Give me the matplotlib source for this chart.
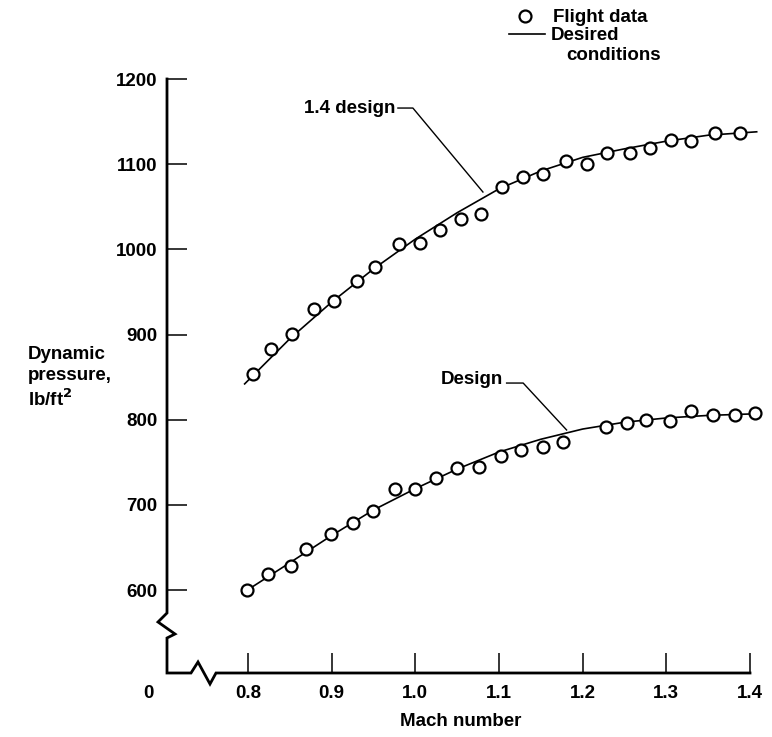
import matplotlib
matplotlib.use('Agg')
import matplotlib.pyplot as plt
from matplotlib.lines import Line2D

plt.rcParams['font.family'] = ['Liberation Sans', 'DejaVu Sans']
plt.rcParams['font.weight'] = 'bold'
plt.rcParams['font.size'] = 13.5

# flight data, 1.4 design trajectory
mach_14 = [0.806, 0.828, 0.853, 0.879, 0.903, 0.930, 0.952, 0.980, 1.006, 1.029,
           1.054, 1.078, 1.103, 1.129, 1.153, 1.180, 1.205, 1.229, 1.257, 1.280,
           1.305, 1.330, 1.358, 1.388]
q_14 = [854, 883, 901, 930, 939, 963, 979, 1006, 1008, 1023,
        1036, 1042, 1073, 1085, 1088, 1104, 1100, 1113, 1113, 1119,
        1128, 1127, 1137, 1137]

# flight data, design trajectory
mach_design = [0.799, 0.824, 0.851, 0.869, 0.899, 0.926, 0.949, 0.976, 1.000, 1.025,
               1.050, 1.076, 1.102, 1.126, 1.152, 1.176, 1.228, 1.253, 1.276, 1.304,
               1.330, 1.356, 1.382, 1.406]
q_design = [600, 619, 628, 648, 666, 679, 693, 719, 719, 731,
            743, 745, 757, 764, 768, 774, 791, 796, 800, 799,
            810, 806, 806, 808]

# desired conditions
curve_mach_14 = [0.796, 0.85, 0.90, 0.95, 1.00, 1.05, 1.10, 1.15, 1.20, 1.25, 1.30, 1.35, 1.408]
curve_q_14 = [842, 895, 938, 977, 1012, 1043, 1071, 1092, 1108, 1118, 1127, 1134, 1138]
curve_mach_design = [0.793, 0.85, 0.90, 0.95, 1.00, 1.05, 1.10, 1.15, 1.20, 1.25, 1.30, 1.35, 1.41]
curve_q_design = [596, 632, 664, 694, 719, 742, 762, 777, 789, 797, 802, 805, 807]

x_ticks = [0.8, 0.9, 1.0, 1.1, 1.2, 1.3, 1.4]
x_labels = ['0.8', '0.9', '1.0', '1.1', '1.2', '1.3', '1.4']
y_ticks = [600, 700, 800, 900, 1000, 1100, 1200]
y_labels = ['600', '700', '800', '900', '1000', '1100', '1200']

W, H = 772, 737


def fx(x):
    return x / W


def fy(y):
    return 1 - y / H


fig = plt.figure(figsize=(W / 100, H / 100), dpi=100)
ax = fig.add_axes([fx(167), fy(673), (750 - 167) / W, (673 - 79) / H])
ax.set_xlim(0.7032, 1.4)
ax.set_ylim(502.55, 1200)
for s in ax.spines.values():
    s.set_visible(False)

ax.set_xticks(x_ticks, x_labels)
ax.set_yticks(y_ticks, y_labels)
ax.tick_params(direction='in', length=14.4, width=1.1, color='black')
ax.tick_params(axis='x', pad=9)
ax.tick_params(axis='y', pad=7)

# curves and flight data
ax.plot(curve_mach_14, curve_q_14, color='black', lw=1.2, clip_on=False, zorder=2)
ax.plot(curve_mach_design, curve_q_design, color='black', lw=1.2, clip_on=False, zorder=2)
ax.plot(mach_14, q_14, 'o', ms=8.6, mfc='white', mec='black', mew=1.6, clip_on=False, zorder=3)
ax.plot(mach_design, q_design, 'o', ms=8.6, mfc='white', mec='black', mew=1.6, clip_on=False, zorder=3)

# curve labels with leaders
ax.text(0.9756, 1165.9, '1.4 design', ha='right', va='center')
ax.plot([0.9792, 0.9971, 1.0808], [1165.9, 1165.9, 1067.3], color='black', lw=1.0, clip_on=False)
ax.text(1.1047, 846.6, 'Design', ha='right', va='center')
ax.plot([1.1091, 1.1289, 1.1808], [843.0, 843.0, 787.9], color='black', lw=1.0, clip_on=False)

# axes with breaks (figure pixel coordinates)
left_x = [167, 167, 158, 175, 167, 167, 191, 198, 210, 216, 750]
left_y = [79, 613, 622, 634, 638, 673, 673, 662, 684, 673, 673]
fig.add_artist(Line2D([fx(v) for v in left_x], [fy(v) for v in left_y],
                      transform=fig.transFigure, color='black', lw=2.0,
                      solid_joinstyle='miter'))

fig.text(fx(148), fy(693), '0', ha='center', va='center')
fig.text(fx(461), fy(722), 'Mach number', ha='center', va='center')
fig.text(fx(28), fy(378), 'Dynamic\npressure,\nlb/ft$^\\mathbf{2}$', ha='left', va='center',
         linespacing=1.25)

# legend
fig.add_artist(Line2D([fx(525)], [fy(16)], transform=fig.transFigure, marker='o',
                      ms=8.6, mfc='white', mec='black', mew=1.6))
fig.text(fx(553), fy(17), 'Flight data', ha='left', va='center')
fig.add_artist(Line2D([fx(509), fx(545)], [fy(34), fy(34)], transform=fig.transFigure,
                      color='black', lw=1.2))
fig.text(fx(551), fy(36), 'Desired', ha='left', va='center')
fig.text(fx(566), fy(56), 'conditions', ha='left', va='center')

fig.savefig('out.png', dpi=100)
